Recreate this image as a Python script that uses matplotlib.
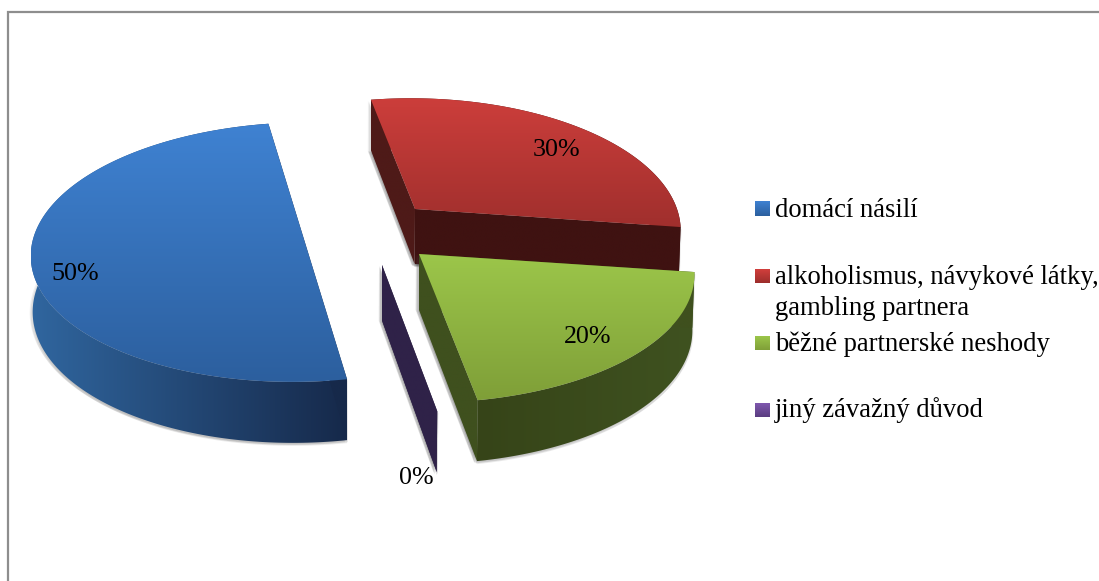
import numpy as np
import matplotlib
matplotlib.use("Agg")
import matplotlib.pyplot as plt
from matplotlib.patches import Polygon
from matplotlib.colors import LinearSegmentedColormap

categories = ["domácí násilí", "alkoholismus, návykové látky,\ngambling partnera",
              "běžné partnerské neshody", "jiný závažný důvod"]
values = [50, 30, 20, 0]
value_labels = ["50%", "30%", "20%", "0%"]

# layout of the exploded, perspective 3D pie (pixels)
START_ANGLE = 170.0   # degrees clockwise from the back of the pie
K = 0.147             # perspective strength
B = 127.0             # vertical radius
H = 55.0              # thickness
apex = [(302, 233), (415, 209), (419, 254), (382, 265)]
radius_x = [267, 262, 272, 272]
shear = [-8, 5, 3, 0]
label_pos = [(75, 274), (556, 150), (588, 337), (416, 478)]
top_cols = [("#3f82d2", "#2c5f9e"), ("#cc3e3b", "#a02f2d"), ("#9cc64a", "#7f9f38"), ("#7a55a8", "#5d3f85")]
rim_cols = [("#30669f", "#16294a"), ("#4e1a18", "#3d1110"), ("#364418", "#3f5220"), ("#2f2248", "#2f2248")]
wall_cols = [("#16294a", "#16294a"), ("#4e1a18", "#3f1211"), ("#3f501e", "#3f501e"), ("#2f2248", "#2f2248")]
legend_cols = [("#3f82d2", "#2c5f9e"), ("#d23f3c", "#9c2e2c"), ("#9cc64a", "#7f9f38"), ("#7f58ae", "#5a3d80")]
legend_y = [(201, 216), (269, 283), (336, 350), (403, 417)]
legend_base = [217, 284, 351, 417]
LEGEND_LINE = 31

plt.rcParams["font.family"] = ["Liberation Serif", "DejaVu Serif"]
fig = plt.figure(figsize=(10.99, 5.81), dpi=100)
ax = fig.add_axes([0, 0, 1, 1])


def project(i, theta):
    t = np.radians(theta)
    u, v = np.sin(t), -np.cos(t)
    s = 1.0 / (1.0 - K * v)
    x = apex[i][0] + (radius_x[i] * u + shear[i] * v) * s
    y = apex[i][1] + B * v * s
    return x, y, s


def drop(x, y, s):
    return 350 + (x - 350) * 0.994, y + H * s ** 0.65


def fill(pts, c0, c1, horizontal=False, zorder=2):
    pts = np.asarray(pts)
    poly = Polygon(pts, closed=True, fc="none", ec="none", transform=ax.transData)
    ax.add_patch(poly)
    x0, y0 = pts.min(axis=0)
    x1, y1 = pts.max(axis=0)
    cmap = LinearSegmentedColormap.from_list("g", [c0, c1])
    ramp = np.linspace(0, 1, 256)
    ramp = ramp[None, :] if horizontal else ramp[:, None]
    im = ax.imshow(ramp, cmap=cmap, extent=(x0, x1, y1, y0), aspect="auto",
                   origin="upper", zorder=zorder, interpolation="bilinear")
    im.set_clip_path(poly)


def shadow(pts, zorder):
    pts = np.asarray(pts)
    for dx, dy, al in [(-3, 1, 0.07), (-2, 2, 0.10), (0, 3, 0.10), (1, 2, 0.10)]:
        ax.add_patch(Polygon(pts + [dx, dy], closed=True, fc="#404040", ec="none",
                             alpha=al, zorder=zorder))


total = sum(values)
theta = START_ANGLE
spans = []
for val in values:
    spans.append((theta, theta + 360.0 * val / total))
    theta = spans[-1][1]

draw_order = [0, 1, 3, 2]
for n, i in enumerate(draw_order):
    t0, t1 = spans[i]
    z = 2 + n * 3
    ts = np.linspace(t0, t1, 200)
    xs, ys, ss = project(i, ts)
    bx, by = drop(xs, ys, ss)
    cx, cy = apex[i]
    abx, aby = drop(cx, cy, 1.0)
    top = np.column_stack([np.r_[cx, xs], np.r_[cy, ys]])
    rim = np.column_stack([np.r_[xs, bx[::-1]], np.r_[ys, by[::-1]]])
    # everything the slice covers, for its soft shadow
    shadow(np.column_stack([np.r_[abx, bx], np.r_[aby, by]]), z - 1)
    shadow(np.array([[cx, cy], [abx, aby], [bx[0], by[0]], [xs[0], ys[0]]]), z - 1)
    shadow(np.array([[cx, cy], [abx, aby], [bx[-1], by[-1]], [xs[-1], ys[-1]]]), z - 1)
    # rim, then the two radial walls, then the top face
    if t1 > t0:
        fill(rim, *rim_cols[i], horizontal=True, zorder=z)
    for j, col in ((0, wall_cols[i][0]), (-1, wall_cols[i][1])):
        wall = np.array([[cx, cy], [xs[j], ys[j]], [bx[j], by[j]], [abx, aby]])
        fill(wall, col, col, zorder=z)
    if t1 > t0:
        fill(top, *top_cols[i], zorder=z + 1)

for (x, y), lab in zip(label_pos, value_labels):
    ax.text(x, y, lab, ha="center", va="center", fontsize=18.7, color="black", zorder=30)

for cat, (y0, y1), base, cols in zip(categories, legend_y, legend_base, legend_cols):
    fill([(755, y0), (770, y0), (770, y1), (755, y1)], *cols, zorder=30)
    for k, line in enumerate(cat.split("\n")):
        ax.text(775, base + k * LEGEND_LINE, line, ha="left", va="baseline", fontsize=19.2,
                color="black", zorder=30)

ax.plot([8, 8, 1099], [581, 12, 12], color="#8e8e8e", lw=1.6, zorder=1,
        solid_joinstyle="miter")

ax.set_xlim(0, 1099)
ax.set_ylim(581, 0)
ax.axis("off")
fig.savefig("out.png", dpi=100, facecolor="white")
